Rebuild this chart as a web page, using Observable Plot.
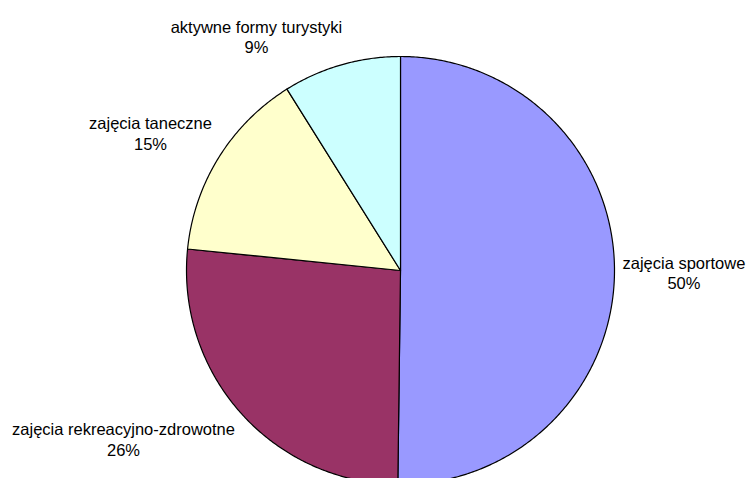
<!DOCTYPE html>
<html><head><meta charset="utf-8">
<script src="https://cdn.jsdelivr.net/npm/d3@7"></script>
<script src="https://cdn.jsdelivr.net/npm/@observablehq/plot@0.6"></script>
<style>html,body{margin:0;padding:0;background:#fff;overflow:hidden}</style>
</head><body><div id="chart"></div>
<script>
const categories = ["zajęcia sportowe", "zajęcia rekreacyjno-zdrowotne", "zajęcia taneczne", "aktywne formy turystyki"];
const values = [50.2, 26.4, 14.5, 8.9];
const pctLabels = ["50%", "26%", "15%", "9%"];
const colors = ["#9999FF", "#993366", "#FFFFCC", "#CCFFFF"];

const W = 747, H = 478, cx = 400, cy = 270, R = 214;
const FONT = 16.5;
const ctx = document.createElement("canvas").getContext("2d");
ctx.font = `${FONT}px "Liberation Sans", Arial, sans-serif`;

const arcs = d3.pie().sort(null)(values);
const pts = [];
const labels = [];
arcs.forEach((a, i) => {
  const n = Math.max(2, Math.ceil((a.endAngle - a.startAngle) / (Math.PI / 360)));
  pts.push({k: categories[i], x: 0, y: 0});
  for (let j = 0; j <= n; j++) {
    const t = a.startAngle + (a.endAngle - a.startAngle) * j / n;
    pts.push({k: categories[i], x: Math.sin(t), y: Math.cos(t)});
  }
  pts.push({k: categories[i], x: 0, y: 0});
  const m = (a.startAngle + a.endAngle) / 2;
  const s = Math.sin(m), c = Math.cos(m);
  const w = Math.max(ctx.measureText(categories[i]).width, ctx.measureText(pctLabels[i]).width);
  const h = 2 * FONT * 1.25;
  const rr = 1 + 8 / R;
  const clamp = v => Math.max(-1, Math.min(1, v));
  const dxPx = clamp(s * 3.5) * w / 2;
  const dyPx = clamp(c * 3.5) * h / 2;
  labels.push({text: categories[i] + "\n" + pctLabels[i], x: s * rr + dxPx / R, y: c * rr + dyPx / R});
});

const plot = Plot.plot({
  width: W, height: H,
  marginTop: 0, marginBottom: 0, marginLeft: 0, marginRight: 0,
  x: {type: "linear", domain: [-1, 1], range: [cx - R, cx + R], axis: null},
  y: {type: "linear", domain: [-1, 1], range: [cy + R, cy - R], axis: null},
  color: {domain: categories, range: colors},
  style: {fontFamily: '"Liberation Sans", Arial, sans-serif', background: "#fff", overflow: "hidden"},
  marks: [
    Plot.line(pts, {x: "x", y: "y", z: "k", fill: "k", stroke: "#000", strokeWidth: 1.2, strokeLinejoin: "round", curve: "linear"}),
    Plot.text(labels, {x: "x", y: "y", text: "text", fontSize: FONT, lineHeight: 1.25, textAnchor: "middle", lineAnchor: "middle", fill: "#000"})
  ]
});
document.getElementById("chart").appendChild(plot);
</script>
</body></html>
